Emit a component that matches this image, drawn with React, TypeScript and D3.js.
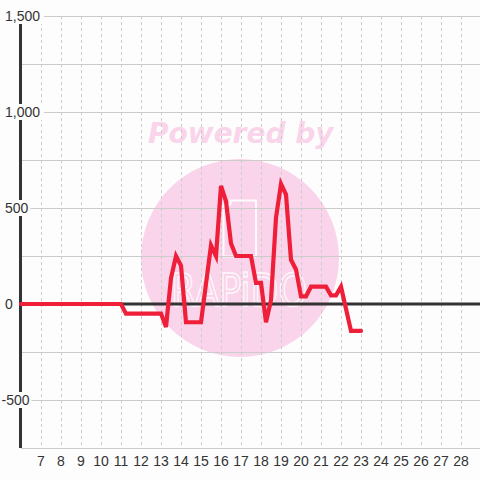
import React from 'react';
import * as d3 from 'd3';

const W = 480;
const H = 480;

const xTickValues = [7, 8, 9, 10, 11, 12, 13, 14, 15, 16, 17, 18, 19, 20, 21, 22, 23, 24, 25, 26, 27, 28];
const yGridValues = [-750, -500, -250, 0, 250, 500, 750, 1000, 1250, 1500];
const yLabelValues = [-500, 0, 500, 1000, 1500];

// quarter-hour times from 6:00 to 23:00
const times = d3.range(6, 23.001, 0.25);
const values = [
  0, 0, 0, 0, 0, 0, 0, 0, 0, 0, 0, 0, 0, 0, 0, 0, 0, 0, 0, 0, 0,
  -50, -50, -50, -50, -50, -50, -50, -50,
  -120, 135, 250, 200,
  -95, -95, -95, -95,
  105, 305, 250, 615, 535, 315, 250,
  250, 250, 250,
  110, 110, -95, 20, 450, 625, 570, 230, 180,
  40, 40, 90, 90, 90, 90, 45, 45, 90,
  -25, -140, -140, -140,
];

const watermarkTitle = 'Powered by';
const watermarkName = 'RAPiDO';

const BG = '#fdfdfd';
const GRID = '#cccccc';
const AXIS = '#333333';
const LINE = '#ef1f3a';
const PINK = '#fad4ea';

const fmt = d3.format(',');

function textWidth(s: string, size: number) {
  let w = 0;
  for (const c of s) {
    if (c === ',') w += 0.278;
    else if (c === '-') w += 0.333;
    else w += 0.556;
  }
  return w * size;
}

export default function App() {
  React.useEffect(() => {
    document.body.style.margin = '0';
  }, []);

  const x = d3.scaleLinear().domain([6, 29]).range([21, 481]);
  const y = d3.scaleLinear().domain([-750, 1500]).range([448, 16]);
  const top = y(1500);
  const bottom = y(-750);
  const left = x(6);

  const data = times.map((t, i) => ({ t, v: values[i] }));
  const line = d3
    .line<{ t: number; v: number }>()
    .x((d) => x(d.t))
    .y((d) => y(d.v));

  const fontSize = 14;
  const labelFont = '"Liberation Sans", Arial, sans-serif';

  return (
    <svg
      width={W}
      height={H}
      style={{ position: 'absolute', left: 0, top: 0, display: 'block' }}
    >
      <rect x={0} y={0} width={W} height={H} fill={BG} />

      {/* watermark */}
      <g>
        <circle cx={240} cy={258} r={99} fill={PINK} />
        <path
          d="M223.5,256.5 V204.5 H230.5 V200.5 H256 V256.5 Z"
          fill="none"
          stroke="#ffffff"
          strokeWidth={2}
          strokeLinejoin="round"
          opacity={0.9}
        />
        <text
          x={171}
          y={306}
          fontFamily='"DejaVu Sans", sans-serif'
          fontSize={44}
          textLength={136}
          lengthAdjust="spacingAndGlyphs"
          fill="none"
          stroke="#ffffff"
          strokeWidth={1.5}
          opacity={0.85}
        >
          {watermarkName}
        </text>
        <text
          x={148}
          y={143}
          fontFamily='"DejaVu Sans", sans-serif'
          fontWeight="bold"
          fontStyle="italic"
          fontSize={28}
          fill={PINK}
        >
          {watermarkTitle}
        </text>
      </g>

      {/* vertical dashed gridlines */}
      {xTickValues.map((t) => (
        <line
          key={'vx' + t}
          x1={x(t) + 0.5}
          x2={x(t) + 0.5}
          y1={top}
          y2={bottom}
          stroke={GRID}
          strokeWidth={1}
          strokeDasharray="3,3"
        />
      ))}

      {/* horizontal gridlines */}
      {yGridValues.map((v) => (
        <line
          key={'hy' + v}
          x1={left}
          x2={W}
          y1={y(v) + 0.5}
          y2={y(v) + 0.5}
          stroke={GRID}
          strokeWidth={1}
        />
      ))}

      {/* zero line */}
      <line x1={left} x2={W} y1={y(0)} y2={y(0)} stroke={AXIS} strokeWidth={3} />
      {/* left axis */}
      <line x1={left - 0.5} x2={left - 0.5} y1={top} y2={bottom} stroke={AXIS} strokeWidth={3} />

      {/* y labels with background */}
      {yLabelValues.map((v) => {
        const s = fmt(v).replace('−', '-');
        const tx = v < 0 ? 1.5 : 5;
        const w = textWidth(s, fontSize);
        return (
          <g key={'yl' + v}>
            <rect x={tx - 1} y={y(v) - 8} width={w + (v >= 1000 ? 5 : 3)} height={16} fill={BG} />
            <text
              x={tx}
              y={y(v)}
              dy="0.35em"
              fontFamily={labelFont}
              fontSize={fontSize}
              fill={AXIS}
            >
              {s}
            </text>
          </g>
        );
      })}

      {/* x labels */}
      {xTickValues.map((t) => (
        <text
          key={'xl' + t}
          x={x(t)}
          y={466}
          textAnchor="middle"
          fontFamily={labelFont}
          fontSize={fontSize}
          fill={AXIS}
        >
          {t}
        </text>
      ))}

      {/* data line */}
      <path
        d={line(data) || ''}
        fill="none"
        stroke={LINE}
        strokeWidth={4.2}
        strokeLinejoin="miter"
        strokeLinecap="round"
      />
    </svg>
  );
}
